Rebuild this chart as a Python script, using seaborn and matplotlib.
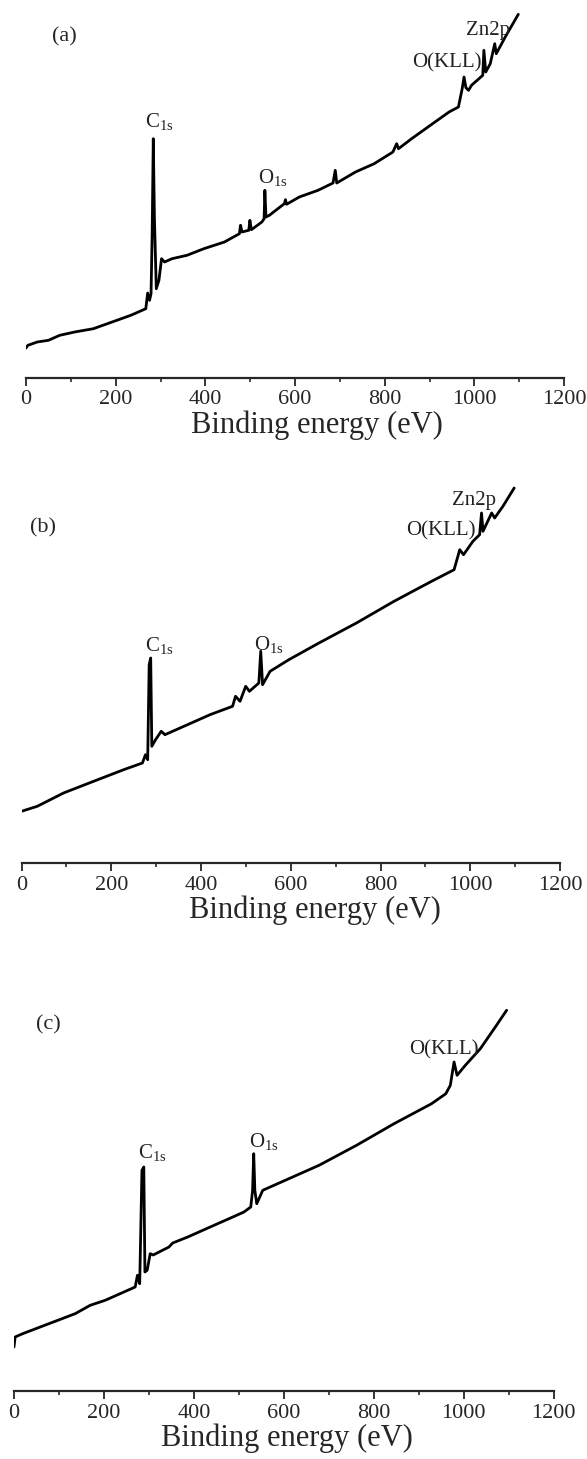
import pandas as pd
import seaborn as sns
import matplotlib.pyplot as plt

# XPS survey spectra (intensity in arbitrary units)
energy_a = [0, 4.2, 25.1, 50.1, 75.2, 108.6, 150.3, 192.1, 233.8, 267.2, 271.4, 275.6,
            278.9, 281.4, 283.9, 286.4, 290.6, 296.5, 302.3, 309, 325.7, 359.1, 396.7,
            442.6, 476, 478.5, 481.8, 496.9, 499.4, 502.7, 526.1, 531.1, 532.8, 535.3,
            542.8, 576.2, 578.7, 581.2, 609.6, 651.4, 684.8, 689.8, 693.1, 734.9, 776.6,
            818.4, 826.7, 830.9, 860.1, 901.9, 943.6, 964.5, 972.9, 977, 981.2, 987.1,
            993.7, 1018.8, 1021.3, 1025.5, 1035.5, 1045.5, 1048.9, 1068.9, 1098.1]
counts_a = [30.0, 32.7, 36.0, 37.7, 42.7, 46.0, 49.3, 56.0, 62.7, 69.3, 85, 77.7,
            84.3, 144, 239.3, 161, 89.3, 97.7, 119.3, 116, 119.3, 122.7, 129.3,
            136, 144.3, 152.7, 146, 147.7, 157.7, 148.3, 156, 159.3, 187.7, 161,
            162.7, 174.3, 178.3, 173.7, 181, 187.7, 195, 207.7, 195, 206, 214.3,
            226, 234.3, 229.3, 239.3, 252.7, 266, 271, 289.3, 301, 290.3, 287.7,
            292.7, 302.7, 327.7, 306, 314.3, 334.3, 324.3, 341, 363.7]

energy_b = [0, 35.1, 93.7, 160.7, 227.6, 269.5, 276.2, 281.2, 284.5, 287.9, 290.4,
            298.7, 311.3, 319.7, 369.9, 420.1, 470.3, 477, 487, 499.6, 507.9, 528.9,
            533.1, 537.2, 554, 595.8, 662.8, 746.4, 830.1, 913.8, 964, 976.6, 985,
            1005.9, 1020.9, 1025.1, 1028.4, 1047.7, 1054.4, 1072.8, 1097.9]
counts_b = [51.7, 56.7, 70, 81.7, 93.3, 100, 108.3, 103.3, 198.3, 205, 116.7,
            123.3, 131.7, 128.3, 138.3, 148.3, 156.7, 166.7, 161.7, 176.7, 171.7, 180,
            211.7, 178.3, 191.7, 203.3, 220, 240, 261.7, 281.7, 293.3, 313.3, 308.3,
            321.7, 328.3, 350, 331.7, 350, 345, 356.7, 375]

energy_c = [0, 2.5, 19.2, 77.6, 136, 169.5, 202.8, 244.5, 269.5, 274.6, 279.6, 284.6,
            288.7, 291.2, 296.2, 302.9, 309.6, 344.6, 353, 386.4, 436.4, 478.2, 511.5,
            526.6, 530.7, 533.2, 535.7, 539.9, 553.3, 603.3, 678.5, 761.9, 845.3,
            928.8, 960.5, 970.5, 978.8, 985.5, 1003.9, 1037.3, 1070.6, 1095.7]
counts_c = [44, 54, 57.3, 67.3, 77.3, 85.7, 90.7, 99, 104, 115.7, 107.3, 220.7,
            224, 119, 120.7, 137.3, 136, 144, 148, 154, 164, 172.3, 179,
            184, 200.7, 237.3, 200.7, 187.3, 200.7, 210.7, 225.7, 245.7, 267.3,
            287.3, 297.3, 305.7, 329, 315.7, 325.7, 342.3, 364, 380.7]

panel_tags = ["(a)", "(b)", "(c)"]
# peak labels: (text, energy, intensity) per panel
peak_labels = [
    [(r"C$_{\rm 1s}$", 266, 256), (r"O$_{\rm 1s}$", 517, 200),
     ("O(KLL)", 862, 315), ("Zn2p", 981, 348)],
    [(r"C$_{\rm 1s}$", 276, 217), (r"O$_{\rm 1s}$", 518, 218),
     ("O(KLL)", 858, 332), ("Zn2p", 959, 362)],
    [(r"C$_{\rm 1s}$", 276, 238), (r"O$_{\rm 1s}$", 522, 249),
     ("O(KLL)", 878, 341)],
]
tag_pos = [(59, 341), (18, 335), (48, 366)]
xlabel_x = [0.54, 0.545, 0.505]

sns.set_style("white")
plt.rcParams['font.family'] = ['Liberation Serif', 'DejaVu Serif']
plt.rcParams['mathtext.fontset'] = 'custom'
plt.rcParams['mathtext.rm'] = 'Liberation Serif'

W, H = 587, 1459
fig = plt.figure(figsize=(W / 100, H / 100), dpi=100)

# axis line pixel rows, x pixel of 0 and 1200, top pixel of each panel
layout = [(378, 26, 564, 5), (863, 21.5, 560, 470), (1391, 14, 553.5, 950)]
spectra = [(energy_a, counts_a), (energy_b, counts_b), (energy_c, counts_c)]

for i, ((ybase, x0, x1, ytop), (e, c)) in enumerate(zip(layout, spectra)):
    ax = fig.add_axes([x0 / W, (H - ybase) / H, (x1 - x0) / W, (ybase - ytop) / H])
    df = pd.DataFrame({"Binding energy (eV)": e, "Intensity": c})
    sns.lineplot(data=df, x="Binding energy (eV)", y="Intensity", ax=ax,
                 color="black", lw=2.0, estimator=None, sort=False)
    ax.set_xlim(0, 1200)
    ax.set_ylim(0, ybase - ytop)
    ax.set_xticks(range(0, 1201, 200))
    ax.set_xticks(range(100, 1200, 200), minor=True)
    ax.set_yticks([])
    ax.set_ylabel("")
    ax.set_xlabel("Binding energy (eV)", fontsize=22, labelpad=1)
    ax.xaxis.label.set_x(xlabel_x[i])
    ax.tick_params(axis="x", which="major", direction="out", length=6, width=1.3,
                   labelsize=16, pad=3, bottom=True)
    ax.tick_params(axis="x", which="minor", direction="out", length=3, width=1.2, bottom=True)
    sns.despine(ax=ax, left=True)
    ax.spines["bottom"].set_linewidth(1.6)
    ax.patch.set_alpha(0)
    ax.text(tag_pos[i][0], tag_pos[i][1], panel_tags[i], fontsize=16, va="center", ha="left")
    for txt, xe, yi in peak_labels[i]:
        ax.text(xe, yi, txt, fontsize=15, va="center", ha="left", color="#222222")

fig.savefig("out.png", dpi=100)
